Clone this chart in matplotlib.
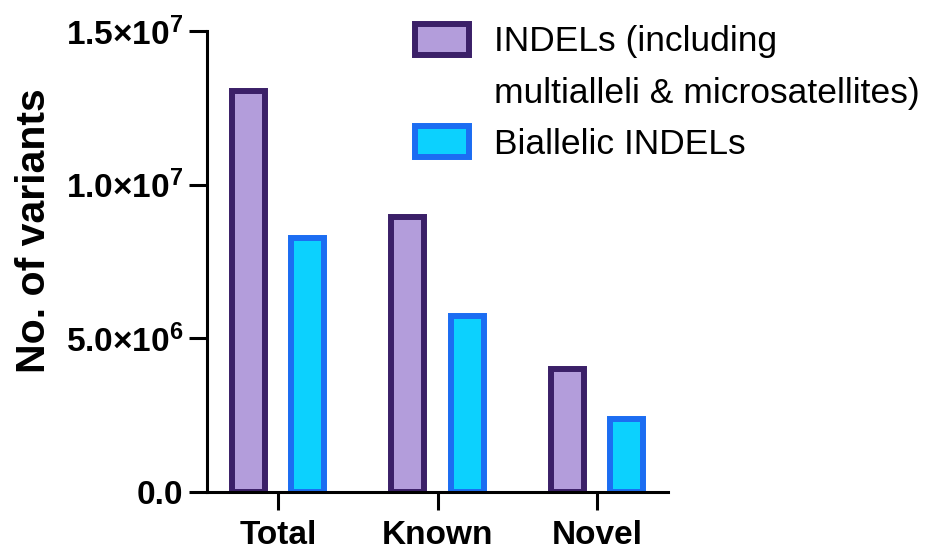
import matplotlib
matplotlib.use("Agg")
import matplotlib.pyplot as plt
import numpy as np
from matplotlib.patches import Patch
from matplotlib.ticker import FixedLocator, FixedFormatter

plt.rcParams['font.family'] = ['Liberation Sans', 'DejaVu Sans']
plt.rcParams['mathtext.fontset'] = 'custom'
plt.rcParams['mathtext.rm'] = 'Liberation Sans'
plt.rcParams['mathtext.bf'] = 'Liberation Sans:bold'

categories = ["Total", "Known", "Novel"]
indels_all = [1.306e7, 8.95e6, 4.0e6]
indels_biallelic = [8.26e6, 5.73e6, 2.38e6]
yticks = [0, 5e6, 1e7, 1.5e7]
ytick_labels = ["0.0", r"$\mathbf{5.0{\times}10^{6}}$",
                r"$\mathbf{1.0{\times}10^{7}}$", r"$\mathbf{1.5{\times}10^{7}}$"]
label_all = ["INDELs (including", "multialleli & microsatellites)"]
label_bi = "Biallelic INDELs"

purple_fill, purple_edge = "#b39ddb", "#3b2068"
blue_fill, blue_edge = "#0cd1fe", "#1c6df2"

fig = plt.figure(figsize=(9.42, 5.51), dpi=100)
ax = fig.add_axes([207 / 942, 59 / 551, 461 / 942, 461 / 551])

x = np.arange(len(categories))
w = 0.207
off = 0.187
ax.bar(x - off, indels_all, w, color=purple_fill, edgecolor=purple_edge, linewidth=4.3, zorder=1)
ax.bar(x + off, indels_biallelic, w, color=blue_fill, edgecolor=blue_edge, linewidth=4.3, zorder=1)

ax.set_xlim(-0.445, 2.445)
ax.set_ylim(0, 1.5e7)
ax.set_xticks(x)
ax.set_xticklabels(categories, fontsize=24, fontweight='bold')
ax.yaxis.set_major_locator(FixedLocator(yticks))
ax.yaxis.set_major_formatter(FixedFormatter(ytick_labels))
for t in ax.get_yticklabels():
    t.set_fontsize(24)
    t.set_fontweight('bold')
ax.tick_params(axis='both', length=13, width=2.2, pad=4)
ax.tick_params(axis='x', pad=7)
for s in ['top', 'right']:
    ax.spines[s].set_visible(False)
for s in ['left', 'bottom']:
    ax.spines[s].set_linewidth(2.2)
    ax.spines[s].set_zorder(3)

ax.set_ylabel("No. of variants", fontsize=29.5, fontweight='bold')
ax.yaxis.set_label_coords(-0.335, 0.566)

handles = [Patch(facecolor=purple_fill, edgecolor=purple_edge, linewidth=4.3),
           Patch(facecolor='none', edgecolor='none'),
           Patch(facecolor=blue_fill, edgecolor=blue_edge, linewidth=4.3)]
fig.legend(handles, label_all + [label_bi], loc='upper left',
           bbox_to_anchor=(415 / 942, 1 - 24 / 551), frameon=False,
           fontsize=25.5, handlelength=1.52, handleheight=0.95,
           handletextpad=0.72, labelspacing=0.47, borderpad=0, borderaxespad=0)

fig.savefig("out.png", dpi=100)
